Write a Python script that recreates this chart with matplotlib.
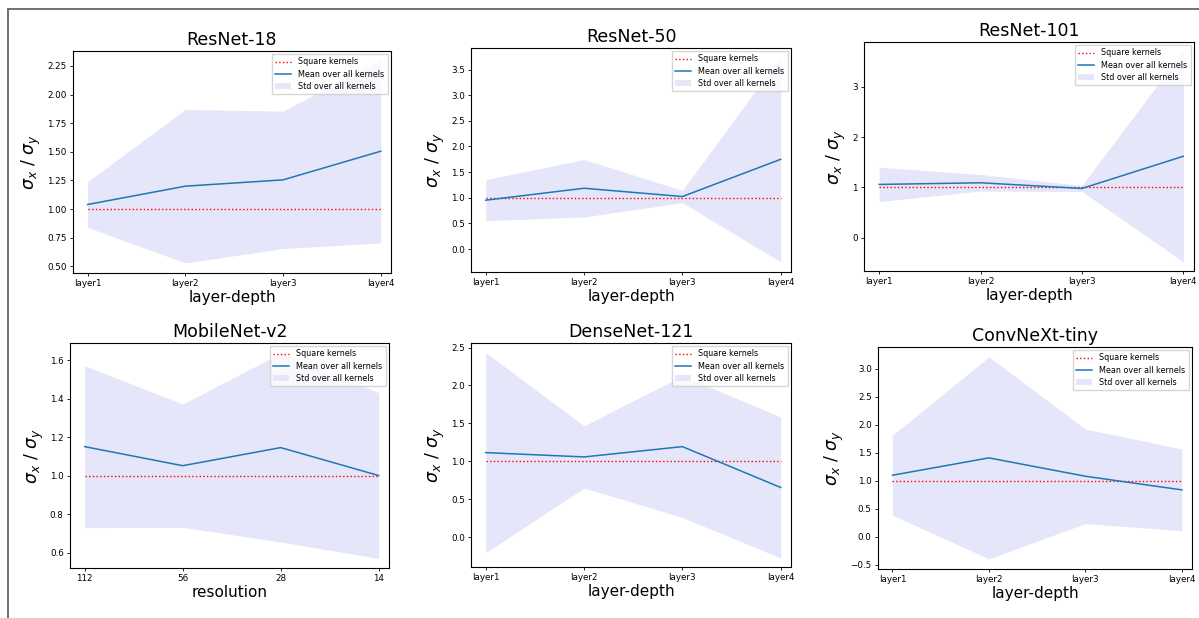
import matplotlib
matplotlib.use("Agg")
import matplotlib.pyplot as plt
from matplotlib.lines import Line2D
import numpy as np

W, H = 1199, 618

# ---- data ----
layer_labels = ["layer1", "layer2", "layer3", "layer4"]
res_labels = ["112", "56", "28", "14"]

titles = ["ResNet-18", "ResNet-50", "ResNet-101",
          "MobileNet-v2", "DenseNet-121", "ConvNeXt-tiny"]
xlabels = ["layer-depth", "layer-depth", "layer-depth",
           "resolution", "layer-depth", "layer-depth"]

resnet18_mean = [1.04, 1.20, 1.255, 1.505]
resnet18_std = [0.20, 0.67, 0.60, 0.80]

resnet50_mean = [0.953, 1.186, 1.024, 1.75]
resnet50_std = [0.40, 0.56, 0.12, 2.0]

resnet101_mean = [1.06, 1.093, 0.98, 1.62]
resnet101_std = [0.34, 0.165, 0.06, 2.1]

mobilenet_mean = [1.152, 1.053, 1.147, 1.002]
mobilenet_std = [0.42, 0.32, 0.49, 0.43]

densenet_mean = [1.114, 1.057, 1.193, 0.654]
densenet_std = [1.32, 0.41, 0.934, 0.93]

convnext_mean = [1.098, 1.408, 1.080, 0.836]
convnext_std = [0.715, 1.805, 0.845, 0.73]

means = [resnet18_mean, resnet50_mean, resnet101_mean,
         mobilenet_mean, densenet_mean, convnext_mean]
stds = [resnet18_std, resnet50_std, resnet101_std,
        mobilenet_std, densenet_std, convnext_std]
ticklabels = [layer_labels, layer_labels, layer_labels,
              res_labels, layer_labels, layer_labels]

ylims = [(0.442, 2.38), (-0.447, 3.92), (-0.66, 3.89),
         (0.522, 1.69), (-0.395, 2.56), (-0.578, 3.39)]
yticks = [np.arange(0.5, 2.26, 0.25), np.arange(0.0, 3.51, 0.5),
          [0, 1, 2, 3], np.arange(0.6, 1.61, 0.2),
          np.arange(0.0, 2.51, 0.5), np.arange(-0.5, 3.01, 0.5)]
yfmt = ["{:.2f}", "{:.1f}", "{:.0f}", "{:.1f}", "{:.1f}", "{:.1f}"]

# axes boxes in pixels: left, top, right, bottom
boxes = [(73, 51, 391, 273), (471, 48, 791, 272), (864, 42, 1194, 271),
         (70, 343, 389, 568), (471, 343, 791, 567), (878, 347, 1192, 569)]

fig = plt.figure(figsize=(W / 100, H / 100), dpi=100)

for i in range(6):
    l, t, r, b = boxes[i]
    ax = fig.add_axes([l / W, 1 - b / H, (r - l) / W, (b - t) / H])
    x = np.arange(4)
    m = np.array(means[i])
    s = np.array(stds[i])
    ax.plot(x, np.ones(4), color="red", linestyle=":", linewidth=1.0,
            label="Square kernels")
    ax.plot(x, m, color="#1f77b4", linewidth=1.1, label="Mean over all kernels")
    ax.fill_between(x, m - s, m + s, color="lavender", linewidth=0,
                    label="Std over all kernels")
    ax.set_xlim(-0.15, 3.105)
    ax.set_ylim(*ylims[i])
    ax.set_xticks(x)
    ax.set_xticklabels(ticklabels[i], fontsize=6.3)
    ax.set_yticks(yticks[i])
    ax.set_yticklabels([yfmt[i].format(v).replace("-", "\u2212") for v in yticks[i]],
                       fontsize=6.3)
    ax.tick_params(length=2.5, width=0.6, pad=2)
    ax.set_title(titles[i], fontsize=12.5, pad=4)
    ax.set_xlabel(xlabels[i], fontsize=11, labelpad=1)
    ax.set_ylabel(r"$\sigma_x\ /\ \sigma_y$", fontsize=12.5, labelpad=3)
    for sp in ax.spines.values():
        sp.set_linewidth(0.8)
    ax.legend(loc="upper right", fontsize=5.8, borderpad=0.4,
              handlelength=2.0, handletextpad=0.9, labelspacing=0.4,
              borderaxespad=0.4, fancybox=False, edgecolor="#cccccc")

# outer frame lines
fig.add_artist(Line2D([7.5 / W, 1], [1 - 8.5 / H, 1 - 8.5 / H],
                      transform=fig.transFigure, color="#666666", linewidth=1.3))
fig.add_artist(Line2D([7.5 / W, 7.5 / W], [0, 1 - 8.5 / H],
                      transform=fig.transFigure, color="#666666", linewidth=1.3))

fig.savefig("out.png", dpi=100)
